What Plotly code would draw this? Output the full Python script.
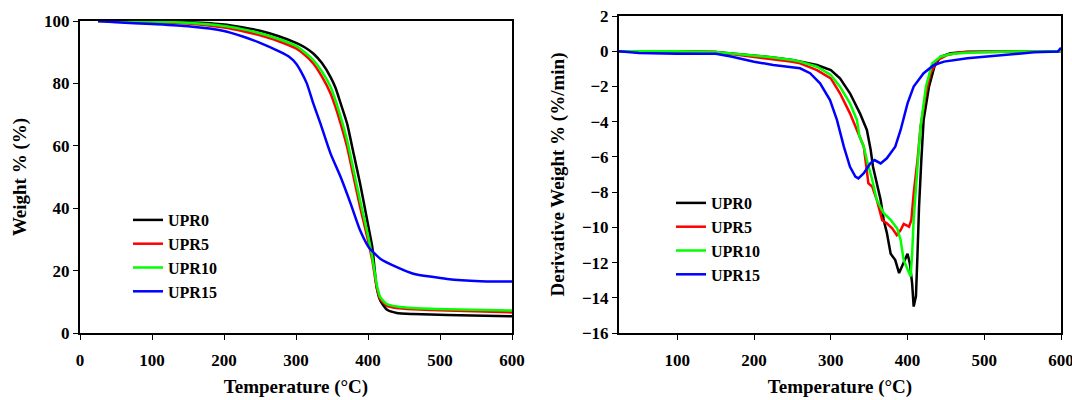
import plotly.graph_objects as go

# ---------------- TGA (left) ----------------
tga_T_upr0 = [25, 100, 150, 200, 225, 250, 275, 300, 312, 324, 336, 348, 355, 362, 371, 380, 389, 399, 406, 412, 417, 426, 440, 463, 510, 600]
tga_W_upr0 = [100, 99.9, 99.6, 98.9, 98.0, 96.9, 95.2, 93.0, 91.6, 89.6, 86.5, 82.0, 78.5, 73.6, 67.1, 57.5, 47.9, 36.0, 27.5, 14.7, 10.4, 7.5, 6.4, 6.1, 5.8, 5.35]

tga_T_upr5 = [25, 100, 150, 200, 225, 250, 275, 300, 312, 324, 336, 348, 355, 362, 371, 380, 389, 399, 406, 412, 417, 426, 440, 463, 510, 600]
tga_W_upr5 = [100, 99.7, 99.2, 97.9, 96.8, 95.4, 93.6, 91.2, 89.2, 86.4, 82.2, 76.8, 72.3, 67.1, 59.6, 50.0, 40.4, 30.7, 23.2, 14.7, 10.9, 8.8, 8.0, 7.6, 7.2, 6.6]

tga_T_upr10 = [25, 100, 150, 200, 225, 250, 275, 300, 312, 324, 336, 348, 355, 362, 371, 380, 389, 399, 406, 412, 417, 426, 440, 463, 510, 600]
tga_W_upr10 = [100, 99.8, 99.4, 98.4, 97.4, 96.1, 94.3, 92.0, 90.0, 87.5, 83.8, 78.9, 74.5, 69.3, 61.8, 52.1, 42.5, 32.3, 24.3, 15.7, 11.5, 9.3, 8.5, 8.0, 7.6, 7.2]

tga_T_upr15 = [25, 50, 100, 150, 200, 225, 250, 278, 290, 300, 307, 315, 324, 334, 348, 362, 376, 389, 401, 417, 440, 463, 510, 556, 600]
tga_W_upr15 = [100, 99.6, 99.0, 98.3, 96.8, 95.1, 93.0, 90.1, 88.6, 86.4, 83.8, 80.0, 73.6, 67.1, 57.5, 50.0, 41.4, 32.9, 27.5, 23.8, 21.1, 19.0, 17.3, 16.6, 16.5]

# ---------------- DTG (right) ----------------
dtg_T_upr0 = [24, 100, 150, 175, 200, 225, 250, 260, 282, 300, 312, 325, 338, 347, 352, 355, 360, 365, 369, 373,
              378, 384, 389, 393, 400, 403, 406, 408, 411, 413, 415, 418, 421, 428, 435, 443, 456, 478, 600]
dtg_D_upr0 = [0, 0, -0.05, -0.15, -0.25, -0.35, -0.5, -0.59, -0.78, -1.07, -1.54, -2.39, -3.53, -4.47, -5.6, -6.56, -7.5, -8.45, -9.6, -10.3,
              -11.5, -11.86, -12.6, -12.2, -11.5, -12.05, -13.18, -14.5, -13.9, -11.5, -8.83, -6.18, -3.9, -2.01, -0.88, -0.31, -0.12, -0.03, 0]

dtg_T_upr5 = [24, 100, 150, 175, 200, 225, 250, 260, 282, 300, 312, 325, 336, 343, 349, 354, 360, 367, 373, 380,
              386, 391, 395, 402, 405, 408, 413, 417, 424, 430, 439, 452, 469, 600]
dtg_D_upr5 = [0, 0, -0.05, -0.18, -0.3, -0.45, -0.6, -0.69, -1.07, -1.54, -2.39, -3.53, -4.66, -5.42, -7.5, -7.69, -8.45, -9.6, -9.77, -10.06,
              -10.44, -10.15, -9.81, -9.96, -9.58, -8.07, -6.18, -4.28, -2.39, -1.25, -0.5, -0.21, -0.06, 0]

dtg_T_upr10 = [24, 100, 150, 175, 200, 225, 250, 260, 282, 300, 312, 325, 334, 337.5, 343, 347, 354, 360, 369, 378,
               386.5, 391, 395, 400, 404, 406, 408, 413, 417, 424, 432, 443, 456, 478, 522, 600]
dtg_D_upr10 = [0, 0, -0.05, -0.15, -0.25, -0.35, -0.5, -0.59, -0.88, -1.35, -2.01, -2.96, -3.9, -4.85, -5.42, -6.18, -7.31, -8.45, -9.2, -9.58,
               -10.06, -10.72, -11.86, -12.4, -12.8, -11.5, -9.58, -6.56, -4.28, -2.01, -0.69, -0.31, -0.16, -0.08, -0.03, 0]

dtg_T_upr15 = [24, 50, 100, 150, 170, 200, 225, 250, 260, 273, 286, 299, 308, 317, 325, 332, 336, 343, 351.5, 357,
               365, 373, 384, 391, 400, 408, 421, 434.5, 447.6, 478, 522, 565, 596, 600]
dtg_D_upr15 = [0, -0.1, -0.15, -0.15, -0.3, -0.6, -0.78, -0.9, -0.97, -1.25, -1.82, -2.77, -3.9, -5.42, -6.56, -7.12, -7.22, -6.93, -6.37, -6.18,
               -6.37, -6.08, -5.42, -4.47, -2.96, -2.01, -1.25, -0.78, -0.59, -0.40, -0.21, -0.06, -0.02, 0.2]

series_names = ["UPR0", "UPR5", "UPR10", "UPR15"]
series_colors = ["#000000", "#FF0000", "#00FF00", "#0000FF"]

tga = [(tga_T_upr0, tga_W_upr0), (tga_T_upr5, tga_W_upr5), (tga_T_upr10, tga_W_upr10), (tga_T_upr15, tga_W_upr15)]
dtg = [(dtg_T_upr0, dtg_D_upr0), (dtg_T_upr5, dtg_D_upr5), (dtg_T_upr10, dtg_D_upr10), (dtg_T_upr15, dtg_D_upr15)]

left_xticks = [0, 100, 200, 300, 400, 500, 600]
left_yticks = [0, 20, 40, 60, 80, 100]
right_xticks = [100, 200, 300, 400, 500, 600]
right_yticks = [2, 0, -2, -4, -6, -8, -10, -12, -14, -16]

FONT = "Liberation Serif"

fig = go.Figure()
for (x, y), name, col in zip(tga, series_names, series_colors):
    fig.add_trace(go.Scatter(x=x, y=y, mode="lines", name=name,
                             line=dict(color=col, width=2.5, shape="spline", smoothing=0.5),
                             xaxis="x", yaxis="y", legend="legend"))
for (x, y), name, col in zip(dtg, series_names, series_colors):
    fig.add_trace(go.Scatter(x=x, y=y, mode="lines", name=name,
                             line=dict(color=col, width=2.5),
                             xaxis="x2", yaxis="y2", legend="legend2"))

tickfont = dict(family=FONT, size=17, color="black", weight="bold")
titlefont = dict(family=FONT, size=19, color="black", weight="bold")
legfont = dict(family=FONT, size=16, color="black", weight="bold")
axis_common = dict(showline=True, linecolor="black", linewidth=2, mirror=True,
                   ticks="outside", ticklen=5, tickwidth=1, tickcolor="black",
                   showgrid=False, zeroline=False, tickfont=tickfont, automargin=False,
                   ticklabeloverflow="allow")

fig.update_layout(
    width=1072, height=400,
    margin=dict(l=0, r=0, t=0, b=0),
    paper_bgcolor="white", plot_bgcolor="white",
    xaxis=dict(domain=[80/1072, 512/1072], range=[0, 600], tickvals=left_xticks,
               title=dict(text="Temperature (°C)", font=titlefont, standoff=10),
               ticklabelstandoff=6, anchor="y", **axis_common),
    yaxis=dict(domain=[67/400, 379/400], range=[0, 100], tickvals=left_yticks,
               title=dict(text="Weight % (%)", font=titlefont, standoff=12),
               anchor="x", **axis_common),
    xaxis2=dict(domain=[619/1072, 1061/1072], range=[24, 600], tickvals=right_xticks,
                title=dict(text="Temperature (°C)", font=titlefont, standoff=10),
                ticklabelstandoff=6, anchor="y2", **axis_common),
    yaxis2=dict(domain=[67/400, 384/400], range=[-16, 2], tickvals=right_yticks,
                title=dict(text="Derivative Weight % (%/min)", font=titlefont, standoff=12),
                anchor="x2", **axis_common),
    legend=dict(x=128/1072, y=1 - 203/400, xanchor="left", yanchor="top",
                bgcolor="rgba(0,0,0,0)", borderwidth=0, font=legfont),
    legend2=dict(x=671/1072, y=1 - 186/400, xanchor="left", yanchor="top",
                 bgcolor="rgba(0,0,0,0)", borderwidth=0, font=legfont),
    showlegend=True,
)

fig.write_html("out.html", config={"displayModeBar": False},
               post_script="document.body.style.margin='0px';")
